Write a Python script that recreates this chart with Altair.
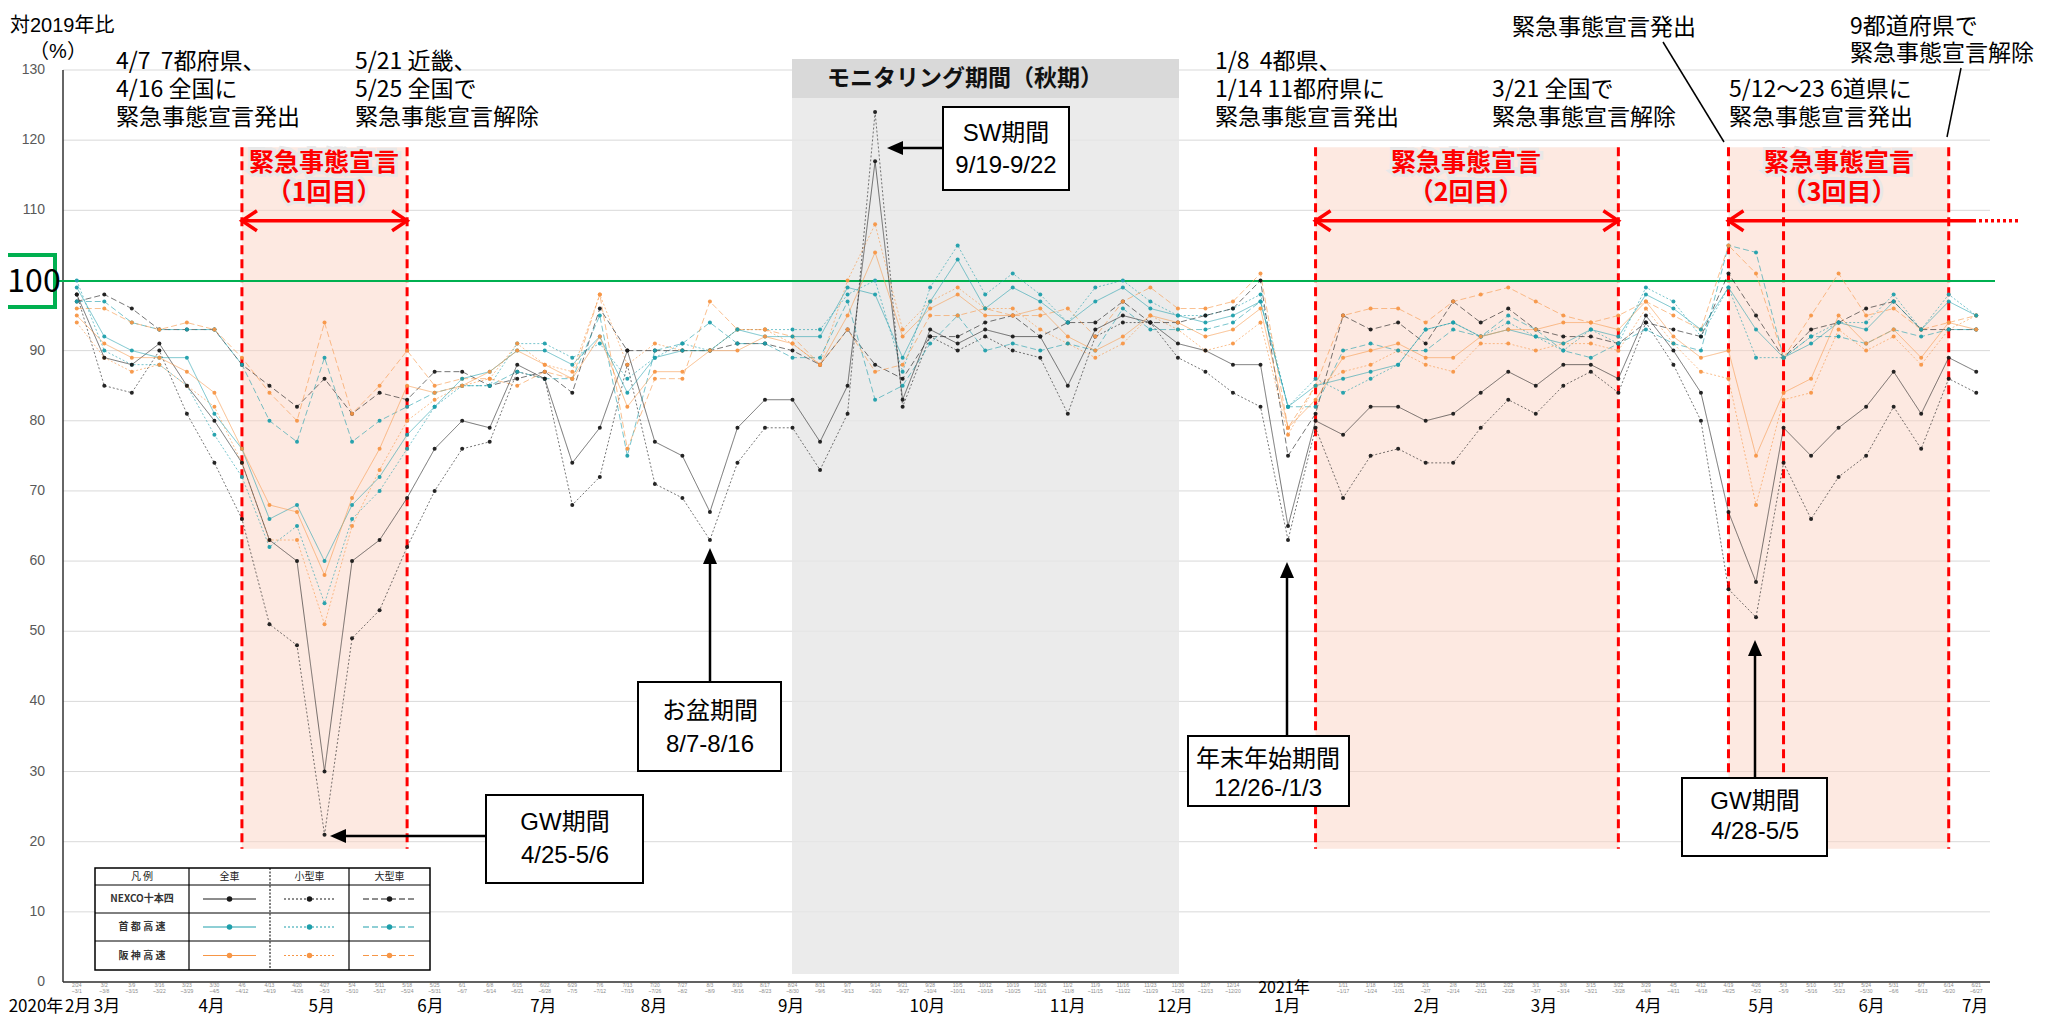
import altair as alt
import pandas as pd

# ---------------- data (weekly index 0..69, 2020/2/24 week .. 2021/6 end) ----------------
N = 70
idx = list(range(N))

nexco_all = [98, 89, 88, 91, 85, 80, 74, 63, 60, 30, 60, 63, 69, 76, 80, 79, 88, 86, 74, 79,
             90, 77, 75, 67, 79, 83, 83, 77, 85, 117, 83, 93, 91, 93, 92, 92, 85, 93, 95, 94,
             91, 90, 88, 88, 65, 80, 78, 82, 82, 80, 81, 84, 87, 85, 88, 88, 86, 95, 90, 84,
             67, 57, 79, 75, 79, 82, 87, 81, 89, 87]
nexco_small = [98, 85, 84, 90, 81, 74, 66, 51, 48, 21, 49, 53, 62, 70, 76, 77, 87, 86, 68, 72,
               88, 71, 69, 63, 74, 79, 79, 73, 81, 124, 82, 92, 90, 92, 90, 89, 81, 92, 94, 94,
               89, 87, 84, 82, 63, 79, 69, 75, 76, 74, 74, 79, 83, 81, 85, 87, 84, 94, 88, 80,
               56, 52, 74, 66, 72, 75, 82, 76, 86, 84]
nexco_large = [97, 98, 96, 93, 93, 93, 88, 85, 82, 86, 81, 84, 83, 87, 87, 85, 86, 87, 84, 96,
               90, 90, 90, 90, 91, 91, 90, 88, 93, 88, 86, 92, 92, 94, 95, 92, 94, 94, 97, 94,
               94, 95, 96, 100, 75, 81, 95, 93, 94, 91, 97, 94, 96, 93, 92, 92, 91, 94, 93, 92,
               101, 95, 89, 93, 94, 96, 97, 93, 93, 93]
shuto_all = [99, 92, 90, 89, 89, 81, 76, 66, 68, 60, 68, 72, 78, 82, 86, 87, 90, 90, 88, 92,
             84, 89, 90, 90, 93, 92, 92, 92, 99, 98, 89, 97, 103, 96, 99, 97, 94, 97, 99, 96,
             95, 94, 95, 97, 82, 85, 86, 87, 88, 93, 94, 92, 93, 92, 91, 93, 92, 98, 96, 93,
             99, 93, 89, 91, 94, 93, 97, 93, 97, 95]
shuto_small = [100, 90, 88, 88, 85, 78, 72, 62, 65, 54, 66, 70, 76, 82, 85, 85, 91, 91, 89, 91,
               86, 89, 91, 90, 93, 93, 93, 93, 98, 100, 87, 99, 105, 98, 101, 98, 94, 99, 100, 97,
               95, 95, 96, 98, 82, 86, 84, 86, 88, 93, 94, 92, 94, 92, 90, 93, 91, 99, 97, 92,
               99, 89, 89, 92, 94, 94, 98, 93, 98, 95]
shuto_large = [97, 97, 94, 93, 93, 93, 88, 80, 77, 89, 77, 80, 82, 84, 85, 85, 87, 86, 86, 95,
               75, 90, 91, 94, 91, 91, 89, 89, 97, 83, 85, 91, 95, 90, 91, 90, 91, 90, 96, 93,
               93, 93, 94, 97, 82, 82, 90, 91, 90, 90, 93, 92, 95, 93, 90, 89, 91, 93, 91, 90,
               105, 104, 89, 92, 92, 91, 93, 92, 93, 93]
hanshin_all = [95, 91, 89, 89, 87, 84, 76, 68, 67, 58, 69, 76, 85, 84, 85, 87, 90, 88, 86, 92,
               82, 87, 87, 90, 90, 92, 91, 88, 95, 104, 92, 96, 98, 95, 95, 96, 92, 90, 92, 95,
               94, 92, 93, 96, 79, 83, 89, 90, 91, 89, 89, 92, 93, 93, 94, 94, 93, 97, 92, 89,
               90, 75, 84, 86, 95, 91, 93, 89, 94, 93]
hanshin_small = [94, 89, 87, 88, 85, 82, 74, 63, 63, 51, 65, 73, 80, 83, 85, 86, 91, 88, 87, 98,
                 88, 91, 90, 90, 93, 93, 91, 88, 100, 108, 93, 97, 99, 96, 96, 93, 91, 89, 91, 95,
                 93, 90, 91, 94, 78, 85, 87, 88, 90, 88, 87, 91, 91, 90, 91, 91, 90, 96, 91, 87,
                 86, 68, 83, 84, 93, 90, 92, 88, 93, 95]
hanshin_large = [96, 96, 94, 93, 94, 93, 89, 84, 80, 94, 81, 85, 90, 85, 86, 86, 85, 87, 86, 98,
                 76, 86, 86, 97, 93, 93, 92, 88, 93, 87, 88, 95, 95, 96, 95, 95, 96, 92, 97, 99,
                 96, 96, 97, 101, 79, 85, 95, 96, 96, 94, 97, 98, 99, 97, 95, 94, 95, 97, 95, 93,
                 105, 101, 89, 95, 101, 95, 96, 93, 94, 95]

companies = ["NEXCO十本四", "首都高速", "阪神高速"]
types = ["小型車", "大型車", "全車"]
values = {
    ("NEXCO十本四", "全車"): nexco_all, ("NEXCO十本四", "小型車"): nexco_small, ("NEXCO十本四", "大型車"): nexco_large,
    ("首都高速", "全車"): shuto_all, ("首都高速", "小型車"): shuto_small, ("首都高速", "大型車"): shuto_large,
    ("阪神高速", "全車"): hanshin_all, ("阪神高速", "小型車"): hanshin_small, ("阪神高速", "大型車"): hanshin_large,
}
comp_color = {"NEXCO十本四": "#1a1a1a", "首都高速": "#1f9fab", "阪神高速": "#f79646"}
type_dash = {"全車": [1, 0], "小型車": [2, 2], "大型車": [6, 3]}
type_width = {"全車": 1.8, "小型車": 1.0, "大型車": 1.4}
type_op = {"全車": 1.0, "小型車": 0.6, "大型車": 0.9}

y_ticks = list(range(0, 131, 10))
y_label_ticks = [v for v in y_ticks if v != 100]  # the 100 label is hidden under the green box

names, colors, dashes, widths, opac = [], [], [], [], []
for t in types:
    for c in companies:
        names.append(f"{c} {t}")
        colors.append(comp_color[c])
        dashes.append(type_dash[t])
        widths.append(type_width[t])
        opac.append(type_op[t])

rows = []
for t in types:
    for c in companies:
        for i, v in zip(idx, values[(c, t)]):
            rows.append({"series": f"{c} {t}", "idx": i, "value": v})
df = pd.DataFrame(rows)

months = ["2月", "3月", "4月", "5月", "6月", "7月", "8月", "9月", "10月", "11月", "12月",
          "1月", "2月", "3月", "4月", "5月", "6月", "7月"]
month_pos = [0.05, 1.1, 4.9, 8.9, 12.85, 16.95, 20.97, 25.95, 30.9, 36.0, 39.9,
             43.97, 49.05, 53.3, 57.1, 61.2, 65.2, 68.96]
weeks = pd.date_range("2020-02-24", periods=N, freq="7D")
tick_top = [f"{d.month}/{d.day}" for d in weeks]
tick_bot = [f"~{(d + pd.Timedelta(days=6)).month}/{(d + pd.Timedelta(days=6)).day}" for d in weeks]

# ---------------- layout helpers (page px -> data units) ----------------
PL, PT, W, H = 63, 70, 1927, 912
BW = W / 70.0
PPU = H / 130.0


def dx(X):
    return (X - PL) / BW - 0.5


def dy(Y):
    return 130 - (Y - PT) / PPU


XS = alt.Scale(domain=[-0.5, 69.5], nice=False, zero=False)
YS = alt.Scale(domain=[0, 130], nice=False, zero=False)


def X(f):
    return alt.X(f, type="quantitative", scale=XS, axis=None)


def Y(f):
    return alt.Y(f, type="quantitative", scale=YS, axis=None)


FN = "Liberation Sans Narrow, Noto Sans CJK JP"
FA = "Liberation Sans, Noto Sans CJK JP"
FJ = "Noto Sans CJK JP"
RED = "#ff0000"
GREEN = "#00b050"

color_enc = alt.Color("series:N", scale=alt.Scale(domain=names, range=colors), legend=None)
dash_enc = alt.StrokeDash("series:N", scale=alt.Scale(domain=names, range=dashes), legend=None)
width_enc = alt.StrokeWidth("series:N", scale=alt.Scale(domain=names, range=widths), legend=None)
op_enc = alt.Opacity("series:N", scale=alt.Scale(domain=names, range=opac), legend=None)


def tdf(items):
    return pd.DataFrame([{"x": dx(a), "y": dy(b), "text": t} for a, b, t in items])


def text_layer(items, **kw):
    return alt.Chart(tdf(items)).mark_text(**kw).encode(x=X("x"), y=Y("y"), text="text:N")


def box_df(items):
    return pd.DataFrame([{"x1": dx(a), "y1": dy(b), "x2": dx(c), "y2": dy(d)} for a, b, c, d in items])


def rect_layer(items, **kw):
    return alt.Chart(box_df(items)).mark_rect(**kw).encode(x=X("x1"), x2="x2", y=Y("y1"), y2="y2")


def seg_layer(items, **kw):
    return alt.Chart(box_df(items)).mark_rule(**kw).encode(x=X("x1"), x2="x2", y=Y("y1"), y2="y2")


def pt_layer(items, **kw):
    d = pd.DataFrame([{"x": dx(a), "y": dy(b)} for a, b in items])
    return alt.Chart(d).mark_point(**kw).encode(x=X("x"), y=Y("y"))


layers = []

# gridlines (manual y axis)
grid = pd.DataFrame({"v": y_ticks, "x1": [-0.5] * len(y_ticks), "x2": [69.5] * len(y_ticks)})
layers.append(alt.Chart(grid).mark_rule(color="#d9d9d9", strokeWidth=1).encode(x=X("x1"), x2="x2", y=Y("v")))

# monitoring (gray) period
layers.append(rect_layer([(792, 59, 1179, 974)], color="#e6e6e6", opacity=0.8))
layers.append(rect_layer([(792, 59, 1179, 98)], color="#d9d9d9"))
layers.append(text_layer([(965, 79, "モニタリング期間（秋期）")], fontSize=23, font=FJ,
                         fontWeight="bold", color="#111111", align="center", baseline="middle"))

# red emergency periods (data units)
reg = pd.DataFrame({"x1": [6, 45, 60], "x2": [12, 56, 68], "y1": [119, 119, 119], "y2": [19, 19, 19]})
layers.append(alt.Chart(reg).mark_rect(color="#fcd3c4", opacity=0.5).encode(
    x=X("x1"), x2="x2", y=Y("y1"), y2="y2"))
dl = pd.DataFrame({"x": [6, 12, 45, 56, 60, 62, 68], "y1": [119] * 7, "y2": [19] * 7})
layers.append(alt.Chart(dl).mark_rule(color=RED, strokeWidth=3, strokeDash=[9, 5]).encode(
    x=X("x"), y=Y("y1"), y2="y2"))

# axis lines and y labels
axl = pd.DataFrame({"x1": [-0.5, -0.5], "x2": [-0.5, 69.5], "y1": [0, 0], "y2": [130, 0]})
layers.append(alt.Chart(axl).mark_rule(color="#333333", strokeWidth=1.5).encode(
    x=X("x1"), x2="x2", y=Y("y1"), y2="y2"))
ylab = pd.DataFrame({"v": y_label_ticks, "x": [dx(45)] * len(y_label_ticks),
                     "t": [str(v) for v in y_label_ticks]})
layers.append(alt.Chart(ylab).mark_text(align="right", baseline="middle", fontSize=14,
                                        font="Liberation Sans", color="#595959").encode(
    x=X("x"), y=Y("v"), text="t:N"))

# green 100 line
layers.append(seg_layer([(58, 281, 1995, 281)], color=GREEN, strokeWidth=2))

# data lines + points
lines = alt.Chart(df).mark_line().encode(
    x=X("idx"), y=Y("value"),
    color=color_enc, strokeDash=dash_enc, strokeWidth=width_enc, opacity=op_enc,
    detail="series:N", order="idx:Q")
points = alt.Chart(df).mark_point(filled=True, size=16, opacity=0.95).encode(
    x=X("idx"), y=Y("value"), color=color_enc)
layers += [lines, points]

# red double arrows
ra = pd.DataFrame({"x1": [6, 45, 60], "x2": [12, 56, dx(1973)], "y": [108.5] * 3})
layers.append(alt.Chart(ra).mark_rule(color=RED, strokeWidth=3.5).encode(x=X("x1"), x2="x2", y=Y("y")))
rdot = pd.DataFrame({"x1": [dx(1973)], "x2": [dx(2019)], "y": [108.5]})
layers.append(alt.Chart(rdot).mark_rule(color=RED, strokeWidth=3.5, strokeDash=[3, 3]).encode(
    x=X("x1"), x2="x2", y=Y("y")))
chevL = pd.DataFrame({"x": [6, 45, 60], "y": [108.5] * 3})
chevR = pd.DataFrame({"x": [12, 56], "y": [108.5] * 2})
layers.append(alt.Chart(chevL).mark_point(shape="M1.5,-1L0,0L1.5,1", filled=False, size=400,
                                          strokeWidth=3.5, color=RED, opacity=1).encode(x=X("x"), y=Y("y")))
layers.append(alt.Chart(chevR).mark_point(shape="M-1.5,-1L0,0L-1.5,1", filled=False, size=400,
                                          strokeWidth=3.5, color=RED, opacity=1).encode(x=X("x"), y=Y("y")))

red_items = [(324, 163, "緊急事態宣言"), (324, 193, "（1回目）"),
             (1466, 163, "緊急事態宣言"), (1466, 193, "（2回目）"),
             (1839, 163, "緊急事態宣言"), (1839, 193, "（3回目）")]
layers.append(text_layer(red_items, fontSize=25, font=FJ, fontWeight="bold", color="#ffffff",
                         stroke="#e8e8e8", strokeWidth=6, align="center", baseline="middle"))
layers.append(text_layer(red_items, fontSize=25, font=FJ, fontWeight="bold", color=RED,
                         align="center", baseline="middle"))

# callout boxes with arrows
boxes = [(943, 107, 1069, 190), (638, 682, 781, 771), (486, 795, 643, 883),
         (1188, 736, 1349, 806), (1682, 778, 1827, 856)]
layers.append(rect_layer(boxes, fill="white", stroke="black", strokeWidth=2))
box_text = [(1006, 134, "SW期間"), (1006, 166, "9/19-9/22"),
            (710, 712, "お盆期間"), (710, 745, "8/7-8/16"),
            (565, 823, "GW期間"), (565, 856, "4/25-5/6"),
            (1268, 760, "年末年始期間"), (1268, 789, "12/26-/1/3"),
            (1755, 802, "GW期間"), (1755, 832, "4/28-5/5")]
layers.append(text_layer(box_text, fontSize=24, font=FA, color="black", align="center", baseline="middle"))
arrows = [(943, 148, 898, 148), (710, 682, 710, 558), (486, 836, 340, 836),
          (1287, 736, 1287, 572), (1755, 778, 1755, 650)]
layers.append(seg_layer(arrows, color="black", strokeWidth=2.5))
layers.append(pt_layer([(887, 148), (330, 836)], shape="M0,0L1.6,-0.7L1.6,0.7Z", filled=True,
                       size=400, color="black", opacity=1))
layers.append(pt_layer([(710, 548), (1287, 562), (1755, 640)], shape="M0,0L-0.7,1.6L0.7,1.6Z",
                       filled=True, size=400, color="black", opacity=1))

# top annotations
NB = "\u00a0"
anno = [(116, 62, f"4/7{NB}{NB}7都府県、"), (116, 90, "4/16 全国に"), (116, 118, "緊急事態宣言発出"),
        (355, 62, "5/21 近畿、"), (355, 90, "5/25 全国で"), (355, 118, "緊急事態宣言解除"),
        (1215, 62, f"1/8{NB}{NB}4都県、"), (1215, 90, "1/14 11都府県に"), (1215, 118, "緊急事態宣言発出"),
        (1492, 90, "3/21 全国で"), (1492, 118, "緊急事態宣言解除"),
        (1729, 90, "5/12～23 6道県に"), (1729, 118, "緊急事態宣言発出"),
        (1512, 28, "緊急事態宣言発出"),
        (1850, 27, "9都道府県で"), (1850, 54, "緊急事態宣言解除")]
layers.append(text_layer(anno, fontSize=23, font=FN, color="black", align="left", baseline="middle"))
layers.append(seg_layer([(1663, 42, 1724, 142), (1961, 68, 1947, 137)], color="black", strokeWidth=1.5))

# axis title and 100 box
layers.append(text_layer([(10, 26, "対2019年比")], fontSize=20, font=FA, color="black",
                         align="left", baseline="middle"))
layers.append(text_layer([(58, 52, "（%）")], fontSize=20, font=FA, color="black",
                         align="center", baseline="middle"))
layers.append(rect_layer([(-6, 255, 55, 307)], fill="white", stroke=GREEN, strokeWidth=4))
layers.append(text_layer([(34, 282, "100")], fontSize=32, font=FN, color="black",
                         align="center", baseline="middle"))

# x tick labels (tiny) and months
keep = [i for i in idx if i not in (43, 44, 45)]
tick_df = pd.DataFrame({"idx": keep, "t": [tick_top[i] for i in keep], "b": [tick_bot[i] for i in keep],
                        "y1": [dy(985)] * len(keep), "y2": [dy(991)] * len(keep)})
layers.append(alt.Chart(tick_df).mark_text(fontSize=5, font=FA, color="#8c8c8c", baseline="middle").encode(
    x=X("idx"), y=Y("y1"), text="t:N"))
layers.append(alt.Chart(tick_df).mark_text(fontSize=5, font=FA, color="#8c8c8c", baseline="middle").encode(
    x=X("idx"), y=Y("y2"), text="b:N"))
mdf = pd.DataFrame({"x": month_pos, "y": [dy(1007)] * len(months), "text": months})
layers.append(alt.Chart(mdf).mark_text(fontSize=17, font=FN, color="black", baseline="middle").encode(
    x=X("x"), y=Y("y"), text="text:N"))
layers.append(text_layer([(36, 1007, "2020年")], fontSize=17, font=FN, color="black",
                         align="center", baseline="middle"))
layers.append(text_layer([(1284, 988, "2021年")], fontSize=16, font=FN, color="black",
                         align="center", baseline="middle"))

# legend table
cols = [95, 189, 270, 349, 430]
rws = [868, 885, 913, 941, 970]
layers.append(rect_layer([(cols[0], rws[0], cols[-1], rws[-1])], fill="white", stroke="black", strokeWidth=1.5))
hl = [(cols[0], y, cols[-1], y) for y in rws[1:-1]]
layers.append(seg_layer(hl, color="black", strokeWidth=1))
layers.append(seg_layer([(189, 868, 189, 970), (349, 868, 349, 970)], color="black", strokeWidth=1.2))
layers.append(seg_layer([(270, 868, 270, 970)], color="black", strokeWidth=1, strokeDash=[2, 1.5]))
hdr = [(142, 877, "凡 例"), (229.5, 877, "全車"), (309.5, 877, "小型車"), (389.5, 877, "大型車")]
layers.append(text_layer(hdr, fontSize=10, font=FJ, color="#222222", align="center", baseline="middle"))
rl = [(142, 899, "NEXCO十本四"), (142, 927, "首 都 高 速"), (142, 955.5, "阪 神 高 速")]
layers.append(text_layer(rl, fontSize=10, font=FJ, fontWeight="bold", color="#333333",
                         align="center", baseline="middle"))
leg_rows = []
col_of = {"全車": 1, "小型車": 2, "大型車": 3}
for r, c in enumerate(companies):
    yc = [899, 927, 955.5][r]
    for t in types:
        k = col_of[t]
        leg_rows.append({"series": f"{c} {t}", "x1": dx(cols[k] + 14), "x2": dx(cols[k + 1] - 14),
                         "xc": dx((cols[k] + cols[k + 1]) / 2), "y": dy(yc)})
leg = pd.DataFrame(leg_rows)
layers.append(alt.Chart(leg).mark_rule().encode(x=X("x1"), x2="x2", y=Y("y"), color=color_enc,
                                                strokeDash=dash_enc, strokeWidth=width_enc))
layers.append(alt.Chart(leg).mark_point(filled=True, size=30, opacity=1).encode(
    x=X("xc"), y=Y("y"), color=color_enc))

chart = alt.layer(*layers).properties(
    width=W, height=H,
    padding={"left": 55, "top": 62, "right": 51, "bottom": 34},
    autosize=alt.AutoSizeParams(type="none"),
    background="white",
).configure_view(stroke="transparent")

chart.save("out.html", embed_options={"renderer": "svg", "actions": False})
